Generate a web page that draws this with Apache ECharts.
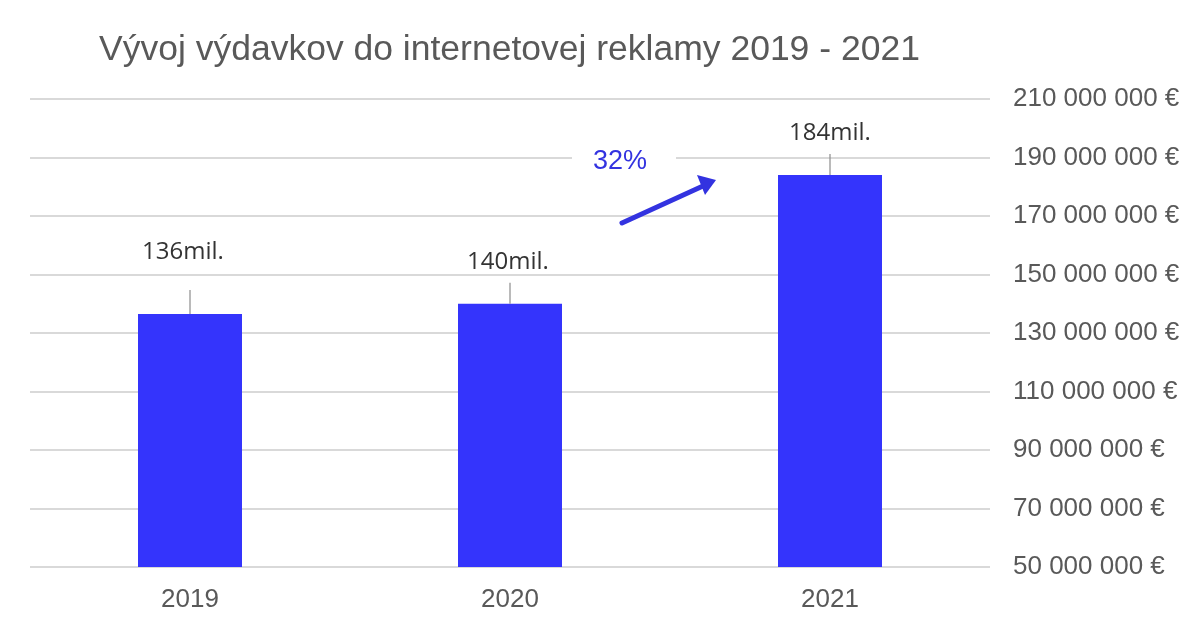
<!DOCTYPE html>
<html><head><meta charset="utf-8">
<script src="https://cdn.jsdelivr.net/npm/echarts@6/dist/echarts.min.js"></script>
<style>html,body{margin:0;padding:0;background:#fff}#c{width:1200px;height:630px}</style>
</head><body><div id="c"></div>
<script>
const categories = ['2019', '2020', '2021'];
const spending = [136500000, 140000000, 184000000];
const valueLabels = ['136mil.', '140mil.', '184mil.'];
const growthLabel = '32%';
const titleText = 'Vývoj výdavkov do internetovej reklamy 2019 - 2021';

// per-label extra lift (px), style only
const labelLift = [17, 0, 0];
const labelShift = [-7, -2, 0];

const chart = echarts.init(document.getElementById('c'));
function fmt(v){ return String(v).replace(/\B(?=(\d{3})+(?!\d))/g, ' ') + ' €'; }

chart.setOption({
  animation: false,
  title: { text: titleText, left: 94, top: 27,
    textStyle: { fontFamily: 'Liberation Sans', fontSize: 35.5, fontWeight: 'normal', color: '#595959' } },
  grid: { left: 30, right: 210, top: 99, bottom: 63 },
  xAxis: { type: 'category', data: categories,
    axisLine: { show: false }, axisTick: { show: false },
    axisLabel: { fontFamily: 'Liberation Sans', fontSize: 26, color: '#595959', margin: 20 } },
  yAxis: { type: 'value', position: 'right', min: 50000000, max: 210000000, interval: 20000000,
    axisLine: { show: false }, axisTick: { show: false },
    splitLine: { lineStyle: { color: '#d9d9d9', width: 2 } },
    axisLabel: { formatter: fmt, fontFamily: 'Liberation Sans', fontSize: 26, color: '#595959', margin: 23 } },
  series: [
    { type: 'bar', data: spending, barWidth: 104, itemStyle: { color: '#3434fc' } },
    { type: 'custom', data: spending.map((v, i) => [i, v]), z: 5,
      renderItem: function (params, api) {
        const p = api.coord([api.value(0), api.value(1)]);
        const i = params.dataIndex;
        const len = 21 + (labelLift[i] ? 3 : 0);
        return { type: 'group', children: [
          { type: 'line', shape: { x1: p[0], y1: p[1], x2: p[0], y2: p[1] - len },
            style: { stroke: '#8c8c8c', lineWidth: 1.2 } },
          { type: 'text', style: { text: valueLabels[i], x: p[0] + labelShift[i], y: p[1] - len - 21 - labelLift[i],
              align: 'center', verticalAlign: 'middle', fontFamily: 'Open Sans', fontSize: 24, fill: '#333' } }
        ] };
      } }
  ],
  graphic: [
    { type: 'rect', shape: { x: 572, y: 145, width: 104, height: 28 }, style: { fill: '#fff' }, z: 10 },
    { type: 'text', x: 620, y: 162, z: 11, style: { text: growthLabel, align: 'center', verticalAlign: 'middle',
        fontFamily: 'Liberation Sans', fontSize: 27, fill: '#3333e0' } },
    { type: 'line', z: 11, shape: { x1: 622, y1: 223, x2: 703, y2: 186 }, style: { stroke: '#3333e0', lineWidth: 5, lineCap: 'round' } },
    { type: 'polygon', z: 11, shape: { points: [[716, 180], [697, 175], [705, 195]] }, style: { fill: '#3333e0' } }
  ]
});
</script></body></html>
